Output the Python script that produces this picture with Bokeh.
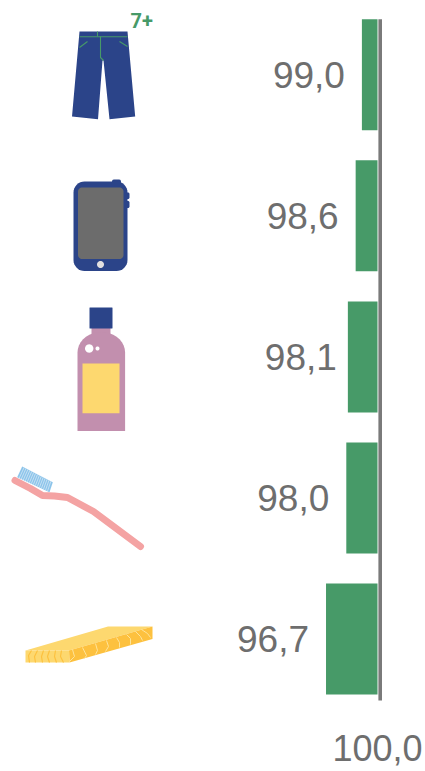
from bokeh.plotting import figure
from bokeh.models import Range1d
from bokeh.core.properties import value
from bokeh.embed import file_html
from bokeh.resources import INLINE
import math

# data
categories = ["Jeans", "Phone", "Shampoo", "Toothbrush", "Plank"]
values = [99.0, 98.6, 98.1, 98.0, 96.7]
labels = ["99,0", "98,6", "98,1", "98,0", "96,7"]
label_shift = [0, 0, 6, 0, 0]   # px nudges of the value labels
tick_values = [100]
tick_labels = ["100,0"]

GREEN, GREY, BLUE = "#479a68", "#6e6e6e", "#2b4489"
PINK, YELLOW, AMBER = "#f4a3a3", "#fdd86f", "#fdc13f"

W, H = 425, 771
PX_PER_UNIT, X100 = 15.6, 377
ROW0, ROW_STEP = 74.2, 141.1

p = figure(width=W, height=H, output_backend="svg", toolbar_location=None,
           x_axis_location=None, y_axis_location=None,
           min_border_left=0, min_border_right=0, min_border_top=0, min_border_bottom=0,
           x_range=Range1d(100 - X100 / PX_PER_UNIT, 100 + (425 - X100) / PX_PER_UNIT),
           y_range=Range1d((H - ROW0) / ROW_STEP, (0 - ROW0) / ROW_STEP))
p.outline_line_color = None
p.grid.visible = False
p.background_fill_color = "white"
p.extra_x_ranges["px"] = Range1d(0, 425)
p.extra_y_ranges["py"] = Range1d(H, 0)
PX = dict(x_range_name="px", y_range_name="py")

rows = list(range(len(values)))
p.hbar(y=rows, left=values, right=[100] * len(values), height=111 / ROW_STEP,
       fill_color=GREEN, line_color=None)
p.text(x=values, y=rows, text=labels, x_offset=[s - 17 for s in label_shift],
       y_offset=[0] * 5,
       text_align="right", text_baseline="middle", text_color=GREY,
       text_font=value("Liberation Sans"), text_font_size="37px")

# value-axis tick label
p.text(x=tick_values, y=[4.77], text=tick_labels, text_align="center", text_baseline="middle",
       text_color=GREY, text_font=value("Liberation Sans"), text_font_size="36px")

# zero line
p.line([379.7, 379.7], [18.7, 700], line_color="#7a7a7a", line_width=3.6, **PX)


def poly(xs, ys, color):
    p.patch(xs, ys, fill_color=color, line_color=None, **PX)


def rrect(x0, y0, x1, y1, r, color):
    xs, ys = [], []
    for cx, cy, a in [(x1 - r, y0 + r, -90), (x1 - r, y1 - r, 0), (x0 + r, y1 - r, 90), (x0 + r, y0 + r, 180)]:
        for k in range(9):
            t = math.radians(a + k * 90 / 8)
            xs.append(cx + r * math.cos(t))
            ys.append(cy + r * math.sin(t))
    poly(xs, ys, color)


def circle(cx, cy, r, color):
    n = 24
    poly([cx + r * math.cos(2 * math.pi * i / n) for i in range(n)],
         [cy + r * math.sin(2 * math.pi * i / n) for i in range(n)], color)


# jeans
poly([79, 127, 134.7, 109, 103, 102, 97.5, 71.5], [31, 31, 116, 118.7, 60, 60, 118.7, 116], BLUE)
for xs, ys in [([79, 127], [36.3, 36.3]), ([97, 97], [31, 36]), ([100, 100, 103], [36, 57, 60]),
               ([79, 87], [47, 41]), ([127, 119], [46, 41])]:
    p.line(xs, ys, line_color=GREEN, line_width=1.1, **PX)
p.text([130], [20], text=["7+"], text_color=GREEN, text_font=value("Roboto"), text_font_style="bold",
       text_font_size="20px", text_baseline="middle", **PX)

# phone
rrect(111.5, 179, 120.5, 186, 2, BLUE)
rrect(124, 192, 129, 198.5, 1.5, BLUE)
rrect(124, 200.5, 129, 207.5, 1.5, BLUE)
rrect(73, 181, 127, 270.5, 11, BLUE)
rrect(77.5, 187, 123, 258.5, 4, "#6c6c6c")
circle(100, 264, 3.5, "#e2e0e0")

# bottle
poly([91, 110, 110, 91], [325, 325, 334, 334], "#c28fae")
dome = [(77 + 23.8 + 23.8 * math.cos(math.radians(a)), 352 + 20.5 * math.sin(math.radians(a)))
        for a in range(180, 361, 10)]
poly([q[0] for q in dome] + [124.6, 77], [q[1] for q in dome] + [430.5, 430.5], "#c28fae")
rrect(89, 307, 112, 328, 0.5, BLUE)
poly([82, 119, 119, 82], [363, 363, 412.7, 412.7], YELLOW)
circle(88.7, 348, 4.2, "white")
circle(97, 348, 2, "white")

# toothbrush
poly([21.7, 52.3, 49, 16.7], [466, 481.7, 491.7, 476.7], "#8cc4ea")
for i in range(1, 16):
    t = i / 16
    p.line([21.7 + 30.6 * t, 16.7 + 32.3 * t], [466 + 15.7 * t, 476.7 + 15 * t],
           line_color="#dcecf8", line_width=0.7, **PX)
p.line([14.5, 30, 42, 54, 67, 80, 93, 140], [480, 488, 495, 495.5, 497, 504, 511, 546], line_color=PINK, line_width=7,
       line_cap="round", line_join="round", **PX)

# plank
poly([25, 107.5, 152, 68.5], [650, 626, 626, 650], YELLOW)
poly([68.5, 152, 152, 69], [650, 626, 638.5, 662], AMBER)
poly([25, 68.5, 69, 25], [650, 650, 662, 662], YELLOW)
for xs, ys in [([82, 86, 84], [647, 655, 658]), ([95, 97, 95], [643, 650, 654]), ([106, 108, 105], [640, 646, 651]),
               ([116, 119, 119], [637, 642, 647]), ([126, 130, 130], [634, 638, 644]), ([135, 140, 142], [631, 636, 640]),
               ([141, 147, 150], [629, 633, 637]), ([72, 74, 69], [649, 656, 661])]:
    p.line(xs, ys, line_color="#fee49a", line_width=1, **PX)
for xs, ys in [([31, 28, 29], [650, 655, 662]), ([37, 34, 35], [650, 656, 662]), ([43, 41, 42], [650, 656, 662]),
               ([49, 47, 49], [650, 656, 662]), ([55, 54, 56], [650, 656, 662]), ([61, 60, 63], [650, 656, 662])]:
    p.line(xs, ys, line_color=AMBER, line_width=1.2, **PX)

open("out.html", "w").write(file_html(p, INLINE))
